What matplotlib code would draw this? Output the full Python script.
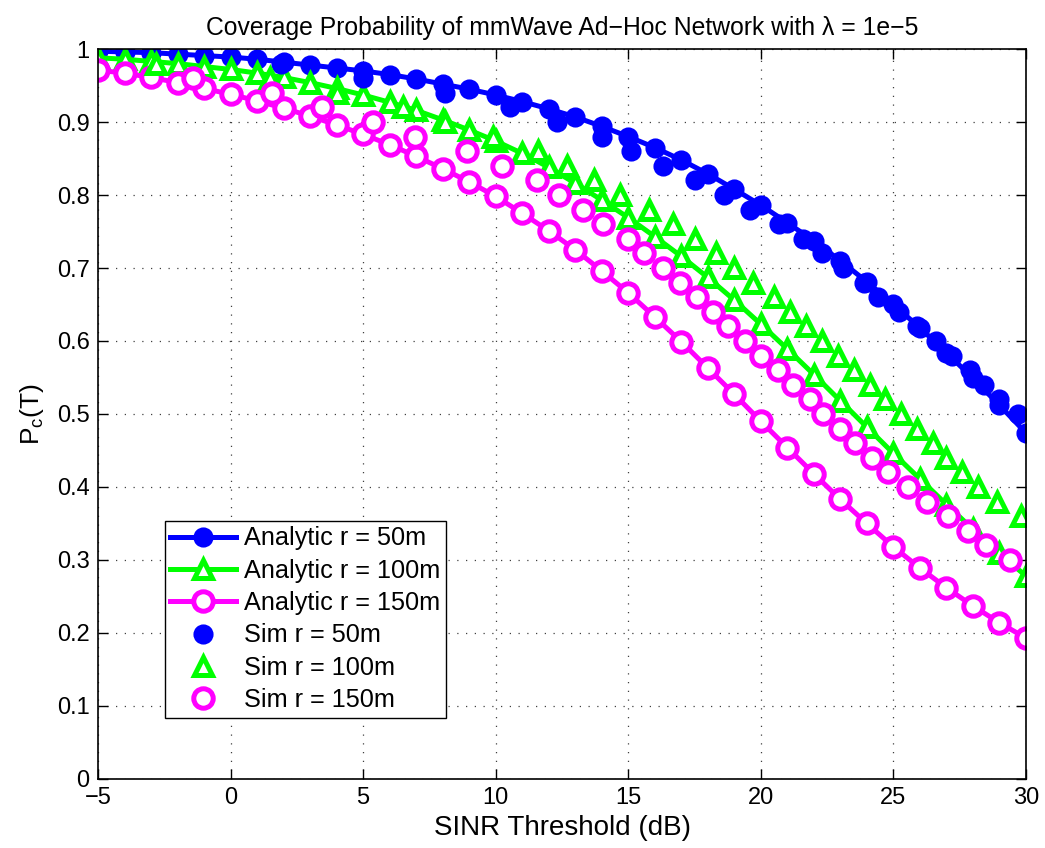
import numpy as np
import matplotlib.pyplot as plt

plt.rcParams['font.family'] = ['Liberation Sans', 'DejaVu Sans']
plt.rcParams['mathtext.fontset'] = 'custom'
plt.rcParams['mathtext.rm'] = 'Liberation Sans'
plt.rcParams['mathtext.it'] = 'Liberation Sans'

# umbral SINR (dB) de las curvas analiticas
T_dB = np.arange(-5, 31, 1)

# curvas analiticas
Pc_50 = [0.997, 0.996, 0.995, 0.993, 0.991, 0.989, 0.986, 0.982, 0.978, 0.974,
         0.970, 0.965, 0.959, 0.952, 0.945, 0.937, 0.928, 0.918, 0.907, 0.894,
         0.880, 0.865, 0.848, 0.829, 0.808, 0.786, 0.762, 0.737, 0.710, 0.681,
         0.650, 0.618, 0.584, 0.549, 0.512, 0.474]
Pc_100 = [0.988, 0.986, 0.983, 0.980, 0.976, 0.972, 0.967, 0.961, 0.954, 0.946,
          0.937, 0.927, 0.916, 0.903, 0.889, 0.874, 0.857, 0.838, 0.816, 0.793,
          0.769, 0.743, 0.716, 0.687, 0.656, 0.623, 0.589, 0.554, 0.518, 0.482,
          0.446, 0.411, 0.376, 0.342, 0.309, 0.278]
Pc_150 = [0.971, 0.967, 0.961, 0.954, 0.946, 0.938, 0.929, 0.919, 0.908, 0.896,
          0.883, 0.869, 0.853, 0.836, 0.818, 0.798, 0.775, 0.751, 0.725, 0.696,
          0.666, 0.633, 0.599, 0.563, 0.527, 0.490, 0.454, 0.418, 0.383, 0.350,
          0.318, 0.289, 0.262, 0.237, 0.214, 0.193]

# simulacion: umbral donde la CCDF empirica cruza cada nivel
sim50_x = [1.9, 5.0, 8.1, 10.55, 12.3, 14.0, 15.1, 16.3, 17.5, 18.6, 19.6, 20.7,
           21.6, 22.3, 23.1, 23.9, 24.4, 25.2, 25.9, 26.6, 27.2, 27.9, 28.4,
           29.0, 29.7]
sim50_y = [0.98, 0.96, 0.94, 0.92, 0.90, 0.88, 0.86, 0.84, 0.82, 0.80, 0.78, 0.76,
           0.74, 0.72, 0.70, 0.68, 0.66, 0.64, 0.62, 0.60, 0.58, 0.56, 0.54,
           0.52, 0.50]

sim100_x = [-2.8, 1.5, 4.0, 6.5, 8.1, 9.9, 11.6, 12.7, 13.7, 14.7, 15.8, 16.7,
            17.5, 18.3, 19.0, 19.7, 20.5, 21.1, 21.7, 22.3, 22.9, 23.5, 24.1,
            24.7, 25.3, 25.9, 26.5, 27.0, 27.6, 28.2, 28.9, 29.8]
sim100_y = [0.98, 0.96, 0.94, 0.92, 0.90, 0.88, 0.86, 0.84, 0.82, 0.80, 0.78, 0.76,
            0.74, 0.72, 0.70, 0.68, 0.66, 0.64, 0.62, 0.60, 0.58, 0.56, 0.54,
            0.52, 0.50, 0.48, 0.46, 0.44, 0.42, 0.40, 0.38, 0.36]

sim150_x = [-1.42, 1.56, 3.45, 5.37, 6.95, 8.9, 10.25, 11.55, 12.4, 13.3, 14.05,
            15.0, 15.6, 16.3, 16.95, 17.6, 18.2, 18.75, 19.4, 20.0, 20.65, 21.2,
            21.85, 22.35, 23.0, 23.55, 24.2, 24.8, 25.55, 26.25, 27.05, 27.8,
            28.5, 29.4]
sim150_y = [0.96, 0.94, 0.92, 0.90, 0.88, 0.86, 0.84, 0.82, 0.80, 0.78, 0.76,
            0.74, 0.72, 0.70, 0.68, 0.66, 0.64, 0.62, 0.60, 0.58, 0.56, 0.54,
            0.52, 0.50, 0.48, 0.46, 0.44, 0.42, 0.40, 0.38, 0.36, 0.34,
            0.32, 0.30]

azul = (0, 0, 1)
verde = (0, 1, 0)
magenta = (1, 0, 1)
lw = 3.6

fig = plt.figure(figsize=(10.45, 8.48), dpi=100)
ax = fig.add_axes([0.0938, 0.0814, 0.888, 0.8608])

ax.plot(T_dB, Pc_50, '-o', color=azul, lw=lw, ms=12, mew=2.5,
        mfc=azul, mec=azul, label='Analytic r = 50m')
ax.plot(T_dB, Pc_100, '-^', color=verde, lw=lw, ms=13, mew=3.6,
        mfc='white', mec=verde, label='Analytic r = 100m')
ax.plot(T_dB, Pc_150, '-o', color=magenta, lw=lw, ms=14, mew=3.6,
        mfc='white', mec=magenta, label='Analytic r = 150m')
ax.plot(sim50_x, sim50_y, 'o', ms=12, mew=2.5, mfc=azul, mec=azul,
        label='Sim r = 50m')
ax.plot(sim100_x, sim100_y, '^', ms=13, mew=3.6, mfc='white', mec=verde,
        label='Sim r = 100m')
ax.plot(sim150_x, sim150_y, 'o', ms=14, mew=3.6, mfc='white', mec=magenta,
        label='Sim r = 150m')

ax.set_xlim(-5, 30)
ax.set_ylim(0, 1)
ax.set_xticks(np.arange(-5, 31, 5))
ax.set_yticks(np.arange(0, 1.01, 0.1))
ax.set_yticklabels(['0', '0.1', '0.2', '0.3', '0.4', '0.5', '0.6', '0.7',
                    '0.8', '0.9', '1'])
ax.tick_params(direction='in', length=7, width=1, labelsize=17,
               top=True, right=True, pad=6)
ax.grid(True, linestyle=(0, (1, 6)), color='0.25', lw=0.9)
for s in ax.spines.values():
    s.set_linewidth(1.2)

ax.set_xlabel('SINR Threshold (dB)', fontsize=20, labelpad=4)
ax.set_ylabel('P$_\\mathregular{c}$(T)', fontsize=19, labelpad=8)
ax.set_title('Coverage Probability of mmWave Ad\u2212Hoc Network with \u03bb = 1e\u22125',
             fontsize=17.8, pad=10)

leg = ax.legend(loc='lower left', bbox_to_anchor=(0.072, 0.084), fontsize=18.2,
                fancybox=False, edgecolor='black', framealpha=1,
                handlelength=2.6, borderaxespad=0, labelspacing=0.33,
                borderpad=0.22, handletextpad=0.3)
leg.get_frame().set_linewidth(1.0)

fig.savefig('out.png', dpi=100)
